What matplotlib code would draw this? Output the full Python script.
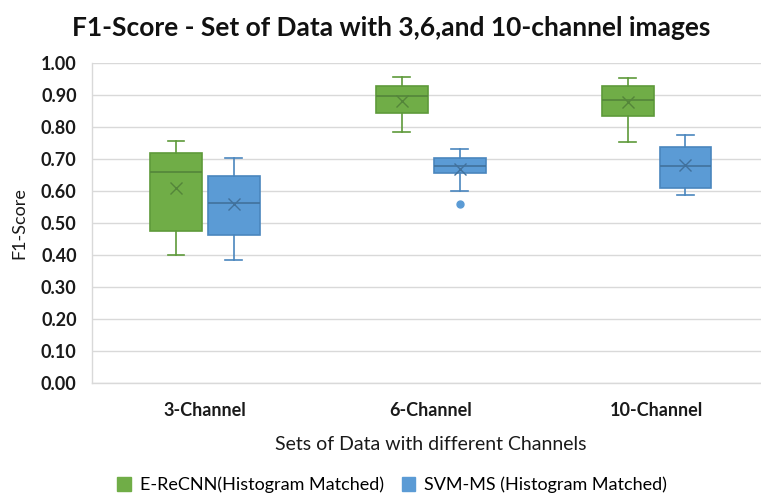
import matplotlib
matplotlib.use('Agg')
from matplotlib import pyplot as plt
from matplotlib.patches import Patch
import numpy as np

plt.rcParams['font.family'] = ['Lato', 'DejaVu Sans']

categories = ['3-Channel', '6-Channel', '10-Channel']
series_names = ['E-ReCNN(Histogram Matched)', 'SVM-MS (Histogram Matched)']

# E-ReCNN box stats per category
ercnn_min = [0.400, 0.784, 0.754]
ercnn_q1 = [0.475, 0.843, 0.834]
ercnn_med = [0.660, 0.896, 0.885]
ercnn_q3 = [0.720, 0.929, 0.928]
ercnn_max = [0.757, 0.957, 0.953]
ercnn_mean = [0.608, 0.881, 0.877]
ercnn_fliers = [[], [], []]

# SVM-MS box stats per category
svm_min = [0.384, 0.601, 0.588]
svm_q1 = [0.462, 0.656, 0.610]
svm_med = [0.563, 0.678, 0.678]
svm_q3 = [0.647, 0.703, 0.736]
svm_max = [0.702, 0.731, 0.774]
svm_mean = [0.558, 0.669, 0.680]
svm_fliers = [[], [0.558], []]

yticks = [0.0, 0.1, 0.2, 0.3, 0.4, 0.5, 0.6, 0.7, 0.8, 0.9, 1.0]


def make_stats(mins, q1, med, q3, maxs, means, fliers):
    stats = []
    for i in range(len(mins)):
        stats.append({'whislo': mins[i], 'q1': q1[i], 'med': med[i], 'q3': q3[i],
                      'whishi': maxs[i], 'mean': means[i], 'fliers': fliers[i]})
    return stats


fig = plt.figure(figsize=(7.61, 4.97), dpi=100)
ax = fig.add_axes([92 / 761, 1 - 383 / 497, (769.5 - 92) / 761, 320 / 497])

x = np.arange(len(categories))
offset = 0.128
width = 0.23

styles = [
    ('#70AD47', '#5E9A3A', '#54853A', make_stats(ercnn_min, ercnn_q1, ercnn_med, ercnn_q3, ercnn_max, ercnn_mean, ercnn_fliers), -offset),
    ('#5B9BD5', '#4A86BE', '#41719C', make_stats(svm_min, svm_q1, svm_med, svm_q3, svm_max, svm_mean, svm_fliers), offset),
]

for fill, edge, dark, stats, off in styles:
    ax.bxp(stats, positions=x + off, widths=width, capwidths=0.075,
           showmeans=True, patch_artist=True, manage_ticks=False,
           boxprops=dict(facecolor=fill, edgecolor=edge, linewidth=1.2),
           medianprops=dict(color=dark, linewidth=1.2),
           whiskerprops=dict(color=edge, linewidth=1.2),
           capprops=dict(color=edge, linewidth=1.2),
           meanprops=dict(marker='x', markeredgecolor=dark, markersize=9, markeredgewidth=1.0),
           flierprops=dict(marker='o', markerfacecolor=fill, markeredgecolor=fill, markersize=5))

txt = '#1A1A1A'
ax.set_xlim(-0.5, 2.5)
ax.set_ylim(0, 1)
ax.set_yticks(yticks)
ax.set_yticklabels(['%.2f' % v for v in yticks], fontweight='bold', fontsize=13, color=txt)
ax.set_xticks(x)
ax.set_xticklabels(categories, fontweight='bold', fontsize=13, color=txt)
ax.tick_params(length=0)
ax.tick_params(axis='y', pad=11)
ax.tick_params(axis='x', pad=14)
ax.grid(axis='y', color='#D9D9D9', linewidth=1.0)
ax.set_axisbelow(True)
for s in ['top', 'right']:
    ax.spines[s].set_visible(False)
for s in ['left', 'bottom']:
    ax.spines[s].set_color('#D9D9D9')
    ax.spines[s].set_linewidth(1.0)

ax.set_ylabel('F1-Score', fontsize=13, color=txt, labelpad=10)
ax.set_xlabel('Sets of Data with different Channels', fontsize=14, color=txt, labelpad=12)

fig.text(391 / 761, 1 - 28 / 497, 'F1-Score - Set of Data with 3,6,and 10-channel images',
         ha='center', va='center', fontsize=19, fontweight='bold', color='#111111')

handles = [Patch(facecolor='#70AD47', edgecolor='#70AD47'), Patch(facecolor='#5B9BD5', edgecolor='#5B9BD5')]
fig.legend(handles, series_names, loc='center', bbox_to_anchor=(392 / 761, 1 - 485 / 497),
           ncol=2, frameon=False, fontsize=13, handlelength=0.75, handleheight=0.75,
           handletextpad=0.5, columnspacing=1.0)

fig.savefig('out.png', dpi=100)
